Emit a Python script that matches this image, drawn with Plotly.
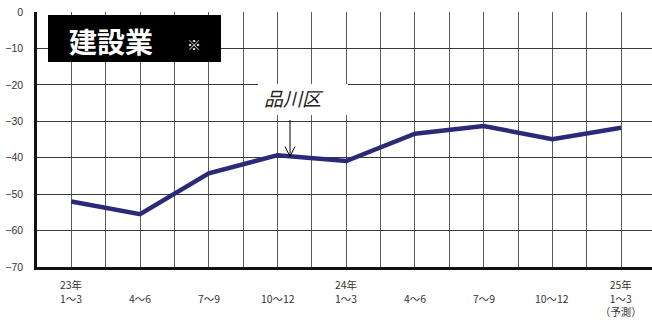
import plotly.graph_objects as go

# Quarterly business-condition index (DI) for construction, Shinagawa ward
years = ["23年", "", "", "", "24年", "", "", "", "25年"]
quarters = ["1～3", "4～6", "7～9", "10～12", "1～3", "4～6", "7～9", "10～12", "1～3"]
notes = ["", "", "", "", "", "", "", "", "（予測）"]
di_values = [-52.0, -55.5, -44.3, -39.3, -40.9, -33.4, -31.3, -34.9, -31.8]

y_ticks = [0, -10, -20, -30, -40, -50, -60, -70]
panel_title = "建設業"
series_name = "品川区"

W_PX, H_PX = 652, 320
M_L, M_R, M_T, M_B = 37, 0, 12, 53
PLOT_W = W_PX - M_L - M_R
PLOT_H = H_PX - M_T - M_B
X_RANGE = [-0.5, 8.45]
Y_RANGE = [-70, 0]


def px_to_x(p):
    return X_RANGE[0] + (p - M_L) / PLOT_W * (X_RANGE[1] - X_RANGE[0])


def px_to_y(p):
    return Y_RANGE[1] - (p - M_T) / PLOT_H * (Y_RANGE[1] - Y_RANGE[0])


xs = list(range(len(di_values)))
LABEL_FONT = "Liberation Sans, Noto Sans CJK JP, sans-serif"
CJK_FONT = "Noto Sans CJK JP, sans-serif"

fig = go.Figure()
fig.add_trace(go.Scatter(
    x=xs, y=di_values, mode="lines",
    line=dict(color="#2a2a78", width=4.5),
    name=series_name, hoverinfo="skip",
))

annotations = []
# category labels: one block per quarter, year line above and note below when present
LINE_STEP = 13.5
for i, (yr, q, n) in enumerate(zip(years, quarters, notes)):
    lines = [t for t in (yr, q, n) if t]
    top_shift = -29.5 + (LINE_STEP if yr else 0) + LINE_STEP / 2
    annotations.append(dict(
        x=i, y=0, xref="x", yref="paper", text="<br>".join(lines), showarrow=False,
        yanchor="top", yshift=top_shift + 1, align="center",
        font=dict(family=CJK_FONT, size=10.4, color="#333333"),
    ))

# panel title inside the black box
annotations.append(dict(
    x=px_to_x(111), y=px_to_y(40.5), xref="x", yref="y", text=f"<b>{panel_title}</b>",
    showarrow=False, font=dict(family=CJK_FONT, size=28, color="white"),
))
annotations.append(dict(
    x=px_to_x(194), y=px_to_y(43.5), xref="x", yref="y", text="※",
    showarrow=False, font=dict(family=CJK_FONT, size=14, color="white"),
))
# series label
annotations.append(dict(
    x=px_to_x(294), y=px_to_y(97), xref="x", yref="y", text=f"<i>{series_name}</i>",
    showarrow=False, font=dict(family=CJK_FONT, size=19, color="#222222"),
))

ax = px_to_x(290)
shapes = [
    dict(type="rect", xref="x", yref="y", layer="between",
         x0=px_to_x(48), x1=px_to_x(221), y0=px_to_y(15), y1=px_to_y(62),
         fillcolor="black", line=dict(width=0)),
    dict(type="rect", xref="x", yref="y", layer="between",
         x0=px_to_x(258), x1=px_to_x(348), y0=px_to_y(84), y1=px_to_y(115),
         fillcolor="white", line=dict(width=0)),
    dict(type="line", xref="x", yref="y", layer="above",
         x0=ax, x1=ax, y0=px_to_y(120), y1=px_to_y(156.5),
         line=dict(color="black", width=1)),
    dict(type="path", xref="x", yref="y", layer="above",
         path=f"M {px_to_x(285)},{px_to_y(146.5)} L {ax},{px_to_y(156.5)} L {px_to_x(295)},{px_to_y(146.5)}",
         line=dict(color="black", width=1)),
]

fig.update_layout(
    width=W_PX, height=H_PX,
    margin=dict(l=M_L, r=M_R, t=M_T, b=M_B),
    paper_bgcolor="white", plot_bgcolor="white",
    showlegend=False,
    annotations=annotations,
    shapes=shapes,
    xaxis=dict(
        range=X_RANGE, tick0=0, dtick=0.5, showticklabels=False, ticks="",
        showgrid=True, gridcolor="#5a5a5a", gridwidth=1, zeroline=False,
        showline=True, linecolor="#111111", linewidth=3,
    ),
    yaxis=dict(
        range=Y_RANGE, tickvals=y_ticks, ticks="",
        showgrid=True, gridcolor="#3a3a3a", gridwidth=1, zeroline=False,
        showline=True, linecolor="#111111", linewidth=2.5,
        tickfont=dict(family=LABEL_FONT, size=10.5, color="#333333"),
        ticklabelstandoff=9,
    ),
)

fig.write_html("out.html")
